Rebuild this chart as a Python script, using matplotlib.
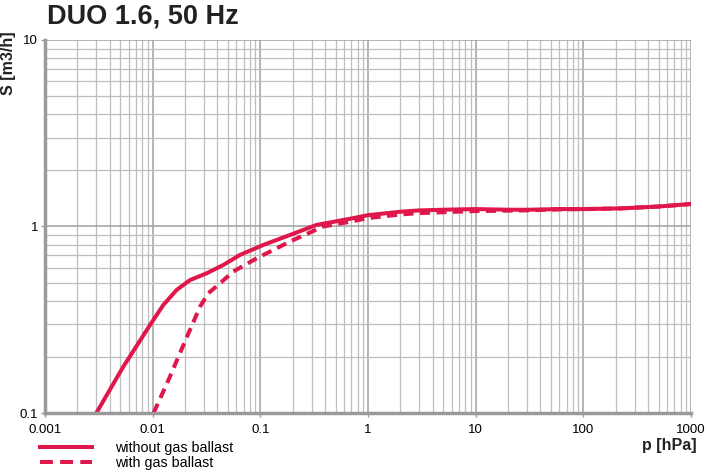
import matplotlib
matplotlib.use("Agg")
import matplotlib.pyplot as plt
from matplotlib.lines import Line2D

plt.rcParams['font.family'] = ['Liberation Sans', 'DejaVu Sans']

# pumping speed curves
p_without = [0.003, 0.00533, 0.00944, 0.01253, 0.0167, 0.0222, 0.0317, 0.0453, 0.0647, 0.1064,
             0.188, 0.333, 0.68, 1.0, 2.0, 3.0, 5.0, 10, 20, 31, 60, 100, 220, 500, 1000]
s_without = [0.1, 0.177, 0.296, 0.379, 0.457, 0.516, 0.561, 0.622, 0.704, 0.796,
             0.90, 1.02, 1.10, 1.15, 1.20, 1.22, 1.23, 1.24, 1.23, 1.23, 1.24, 1.24, 1.25, 1.28, 1.32]

p_with = [0.0102, 0.0145, 0.0179, 0.0222, 0.0275, 0.0328, 0.0422, 0.056, 0.0925, 0.1416,
          0.188, 0.384, 0.68, 1.0, 2.0, 3.0, 10, 30, 60, 100, 220, 500, 1000]
s_with = [0.1, 0.157, 0.209, 0.279, 0.371, 0.438, 0.496, 0.573, 0.675, 0.764,
          0.83, 1.0, 1.06, 1.11, 1.16, 1.18, 1.21, 1.22, 1.235, 1.24, 1.25, 1.28, 1.32]

x_ticks = [0.001, 0.01, 0.1, 1, 10, 100, 1000]
x_labels = ["0.001", "0.01", "0.1", "1", "10", "100", "1000"]
y_ticks = [0.1, 1, 10]
y_labels = ["0.1", "1", "10"]

red = "#E0174A"
grid_minor = "#BEBEBE"
grid_major = "#A0A0A0"

fig = plt.figure(figsize=(7.09, 4.73), dpi=100)
ax = fig.add_axes([45 / 709, 60 / 473, 646 / 709, 373 / 473])
ax.set_xscale("log")
ax.set_yscale("log")
ax.set_xlim(0.001, 1000)
ax.set_ylim(0.1, 10)

ax.grid(True, which="minor", color=grid_minor, lw=0.9)
ax.grid(True, which="major", color=grid_major, lw=1.1)
ax.set_axisbelow(True)

ax.plot(p_without, s_without, color=red, lw=2.9, solid_joinstyle="round")
ax.plot(p_with, s_with, color=red, lw=2.9, dashes=(2.5, 1.6), dash_joinstyle="round")

for side in ("top", "right"):
    ax.spines[side].set_visible(False)
for side in ("left", "bottom"):
    ax.spines[side].set_color("#9A9A9A")
    ax.spines[side].set_linewidth(2.5)

ax.set_xticks(x_ticks)
ax.set_xticklabels(x_labels)
ax.set_yticks(y_ticks)
ax.set_yticklabels(y_labels)
ax.tick_params(which="major", length=3, width=1, color="#9A9A9A", labelsize=9.5)
ax.tick_params(axis="x", pad=5)
ax.tick_params(axis="y", pad=2)
ax.tick_params(which="minor", length=0)
ax.xaxis.set_minor_formatter(plt.NullFormatter())
ax.yaxis.set_minor_formatter(plt.NullFormatter())

fig.text(47 / 709, 1 - 16 / 473, "DUO 1.6, 50 Hz", fontsize=19.5, fontweight="bold",
         color="#222222", va="center", ha="left")
fig.text(9 / 709, 1 - 63 / 473, "S [m3/h]", fontsize=11.5, fontweight="bold",
         color="#222222", rotation=90, va="center", ha="center")
fig.text(697 / 709, 1 - 445 / 473, "p [hPa]", fontsize=11.5, fontweight="bold",
         color="#222222", va="center", ha="right")

handles = [Line2D([], [], color=red, lw=2.9),
           Line2D([], [], color=red, lw=2.9, dashes=(3.2, 1.8))]
fig.legend(handles, ["without gas ballast", "with gas ballast"],
           loc="upper left", bbox_to_anchor=(40 / 709, 1 - 441 / 473),
           frameon=False, fontsize=10.3, handlelength=3.65, handletextpad=1.6,
           labelspacing=0.1, borderpad=0, borderaxespad=0)

fig.savefig("out.png", dpi=100)
